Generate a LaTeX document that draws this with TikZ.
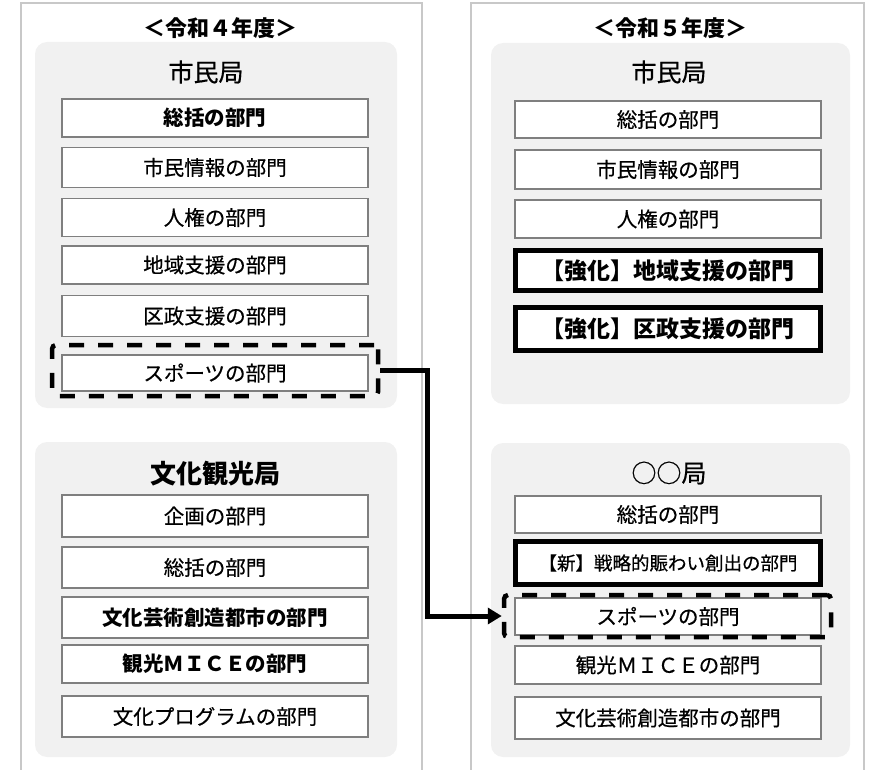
\documentclass[tikz,border=0pt]{standalone}
\usepackage{fontspec}
\setmainfont{Noto Sans CJK JP}
\newfontfamily\medfont{Noto Sans CJK JP}[FakeBold=0.5]
\usetikzlibrary{arrows.meta}
\definecolor{panelline}{HTML}{C8C8C8}
\definecolor{groupfill}{HTML}{F1F1F1}
\definecolor{boxline}{HTML}{7F7F7F}
\begin{document}
\begin{tikzpicture}[x=1pt,y=-1pt,
  panel/.style={draw=panelline,line width=1.2pt},
  group/.style={fill=groupfill,rounded corners=12pt},
  yearhead/.style={inner sep=0pt,font=\fontsize{22}{26}\bfseries\selectfont},
  bureau/.style={inner sep=0pt,font=\fontsize{25}{30}\medfont},
  bureaub/.style={inner sep=0pt,font=\fontsize{26}{30}\bfseries\selectfont},
  dept/.style={draw=boxline,fill=white,line width=1.2pt,minimum width=306pt,minimum height=38pt,inner sep=0pt,font=\fontsize{20.5}{24}\medfont},
  deptb/.style={dept,font=\fontsize{20.5}{24}\bfseries\selectfont},
  strong/.style={draw=black,fill=white,line width=5pt,minimum width=305pt,inner sep=0pt,font=\fontsize{23}{27}\bfseries\selectfont},
  moved/.style={draw=black,dash pattern=on 15pt off 14pt,line width=4.5pt,rounded corners=4pt,inner sep=0pt},
  arrowline/.style={draw=black,line width=5pt,-{Triangle[length=14pt,width=16pt]}}
]
\useasboundingbox (0,0) rectangle (876,770);
% panels
\draw[panel] (21,770) -- (21,3) -- (422,3) -- (422,770);
\draw[panel] (471,770) -- (471,3) -- (864,3) -- (864,770);
% gray groups
\fill[group] (35,42) rectangle (397,408);
\fill[group] (35,442) rectangle (397,757);
\fill[group] (491,43) rectangle (850,404);
\fill[group] (491,443) rectangle (850,757);
% year headers
\node[yearhead] (y4) at (220,28) {＜令和４年度＞};
\node[yearhead] (y5) at (670,28) {＜令和５年度＞};
% left top
\node[bureau] (lb1) at (206,72) {市民局};
\node[deptb,minimum height=38pt] (l1) at (215,118) {総括の部門};
\node[dept,minimum height=40pt] (l2) at (215,167.5) {市民情報の部門};
\node[dept,minimum height=38pt] (l3) at (215,217.5) {人権の部門};
\node[dept,minimum height=38pt] (l4) at (215,265) {地域支援の部門};
\node[dept,minimum height=41pt] (l5) at (215,316) {区政支援の部門};
\node[dept,minimum height=36pt] (l6) at (215,373) {スポーツの部門};
\node[moved,minimum width=326pt,minimum height=51pt] (dashL) at (215,370.5) {};
% left bottom
\node[bureaub] (lb2) at (215,474) {文化観光局};
\node[dept,minimum height=42pt] (m1) at (215,516) {企画の部門};
\node[dept,minimum height=41pt] (m2) at (215,567.5) {総括の部門};
\node[deptb,minimum height=41pt] (m3) at (215,617.5) {文化芸術創造都市の部門};
\node[deptb,minimum height=38pt] (m4) at (215,664) {観光ＭＩＣＥの部門};
\node[dept,minimum height=41pt] (m5) at (215,716.5) {文化プログラムの部門};
% right top
\node[bureau] (rb1) at (669,72) {市民局};
\node[dept,minimum height=37pt] (r1) at (668,119.5) {総括の部門};
\node[dept,minimum height=39pt] (r2) at (668,169.5) {市民情報の部門};
\node[dept,minimum height=38pt] (r3) at (668,219) {人権の部門};
\node[strong,minimum height=40pt] (r4) at (668,270.5) {【強化】地域支援の部門};
\node[strong,minimum height=43pt] (r5) at (668,329) {【強化】区政支援の部門};
% right bottom
\node[bureau] (rb2) at (669,473) {○○局};
\node[dept,minimum height=37pt] (s1) at (668,514.5) {総括の部門};
\node[strong,minimum height=43pt,font=\fontsize{18.5}{22}\medfont] (s2) at (668,563) {【新】戦略的賑わい創出の部門};
\node[dept,minimum height=37pt] (s3) at (668,616.5) {スポーツの部門};
\node[moved,minimum width=327pt,minimum height=42pt] (dashR) at (667.5,616) {};
\node[dept,minimum height=38pt] (s4) at (668,665) {観光ＭＩＣＥの部門};
\node[dept,minimum height=42pt] (s5) at (668,718) {文化芸術創造都市の部門};
% arrow
\draw[arrowline] (dashL.east) -- ([xshift=47pt]dashL.east) |- (dashR.west);
\end{tikzpicture}
\end{document}
